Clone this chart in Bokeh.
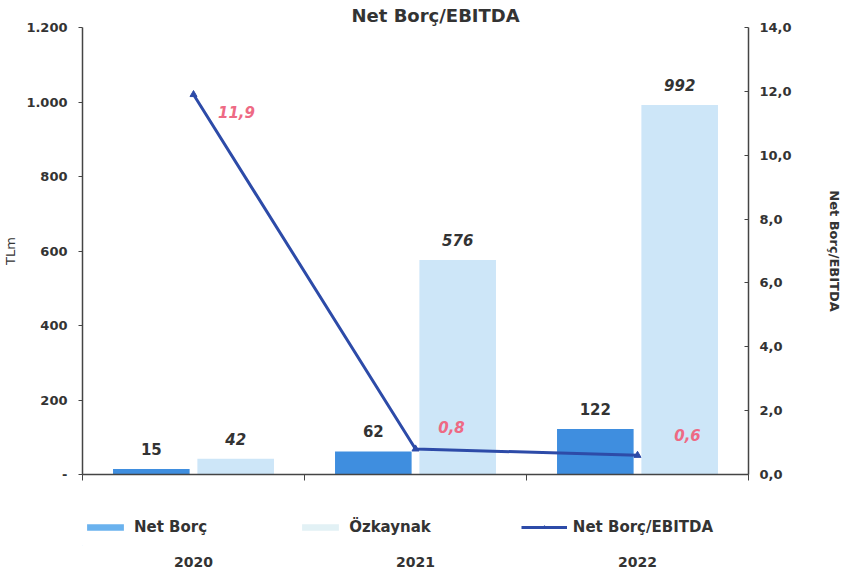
from bokeh.plotting import figure
from bokeh.layouts import column
from bokeh.models import (Range1d, LinearAxis, FixedTicker, ColumnDataSource,
                          Legend, LegendItem)
from bokeh.core.properties import value
from bokeh.embed import file_html
from bokeh.resources import INLINE

# --- data -------------------------------------------------------------------
years = ["2020", "2021", "2022"]
net_borc = [15, 62, 122]            # TLm
ozkaynak = [42, 576, 992]           # TLm
ratio = [11.9, 0.8, 0.6]            # Net Borç / EBITDA
ratio_text = ["11,9", "0,8", "0,6"]

left_ticks = [0, 200, 400, 600, 800, 1000, 1200]
left_tick_labels = ["-", "200", "400", "600", "800", "1.000", "1.200"]
right_ticks = [0, 2, 4, 6, 8, 10, 12, 14]
right_tick_labels = ["0,0", "2,0", "4,0", "6,0", "8,0", "10,0", "12,0", "14,0"]

# --- styling ----------------------------------------------------------------
FONT = "DejaVu Sans"
DARK = "#333333"
AXIS = "#444444"
C_NET = "#3F8EDF"
C_OZK = "#CDE6F8"
C_NET_KEY = "#6AB2EE"
C_OZK_KEY = "#E2F1F5"
C_LINE = "#2D4BA8"
C_RATIO = "#EE6A84"

BAR_W = 0.345
DODGE = 0.19
BORDER_L, BORDER_R = 82, 104

centers = [i + 0.5 for i in range(len(years))]
bounds = list(range(len(years) + 1))
src = ColumnDataSource(dict(
    center=centers,
    x_net=[c - DODGE for c in centers],
    x_ozk=[c + DODGE for c in centers],
    net=net_borc,
    ozk=ozkaynak,
    net_txt=[str(v) for v in net_borc],
    ozk_txt=[str(v) for v in ozkaynak],
    ratio=ratio,
    ratio_txt=ratio_text,
    rdx=[43, 36, 50],
    rdy=[17, -22, -20],
))

x_range = Range1d(0, len(years))

# ---------------------------------------------------------------- main chart
p = figure(width=852, height=500, x_range=x_range, y_range=Range1d(0, 1200),
           output_backend="svg", toolbar_location=None,
           x_axis_location=None, y_axis_location=None,
           min_border_left=BORDER_L, min_border_right=BORDER_R,
           min_border_top=27, min_border_bottom=26)
p.extra_y_ranges = {"ratio": Range1d(0, 14)}
p.xgrid.visible = False
p.ygrid.visible = False
p.outline_line_color = None
p.background_fill_color = "white"
p.border_fill_color = "white"

p.title.text = "Net Borç/EBITDA"
p.title.align = "left"
p.title.offset = 269
p.title.standoff = 3
p.title.text_font = FONT
p.title.text_font_style = "bold"
p.title.text_font_size = "18px"
p.title.text_color = DARK


def style_axis(ax):
    ax.axis_line_color = AXIS
    ax.axis_line_width = 1.5
    ax.major_tick_line_color = AXIS
    ax.minor_tick_line_color = AXIS
    ax.major_label_text_font = FONT
    ax.major_label_text_font_style = "bold"
    ax.major_label_text_font_size = "13px"
    ax.major_label_text_color = DARK
    ax.axis_label_text_font = FONT
    ax.axis_label_text_font_size = "13px"
    ax.axis_label_text_color = DARK


left = LinearAxis(ticker=FixedTicker(ticks=left_ticks),
                  major_label_overrides=dict(zip(left_ticks, left_tick_labels)),
                  axis_label="TLm")
style_axis(left)
left.major_tick_out = 4
left.major_tick_in = 0
left.minor_tick_out = 0
left.major_label_standoff = 11
left.axis_label_text_font_style = "normal"
left.axis_label_standoff = 5
p.add_layout(left, "left")

right = LinearAxis(y_range_name="ratio", ticker=FixedTicker(ticks=right_ticks),
                   major_label_overrides=dict(zip(right_ticks, right_tick_labels)),
                   axis_label="Net Borç/EBITDA")
style_axis(right)
right.major_tick_out = 0
right.major_tick_in = 4
right.minor_tick_out = 0
right.major_label_standoff = 11
right.axis_label_text_font_style = "bold"
right.axis_label_standoff = 32
p.add_layout(right, "right")

# category axis: ticks on the category boundaries, labels left blank
cat_ticks = LinearAxis(ticker=FixedTicker(ticks=bounds),
                       major_label_overrides={b: "" for b in bounds})
style_axis(cat_ticks)
cat_ticks.major_tick_out = 6
cat_ticks.major_tick_in = 0
cat_ticks.minor_tick_out = 0
cat_ticks.minor_tick_in = 0
cat_ticks.major_label_text_font_size = "1px"
cat_ticks.major_label_standoff = 0
p.add_layout(cat_ticks, "below")

# bars
p.vbar(x="x_net", top="net", width=BAR_W, source=src,
       fill_color=C_NET, line_color=None)
p.vbar(x="x_ozk", top="ozk", width=BAR_W, source=src,
       fill_color=C_OZK, line_color=None)

p.text(x="x_net", y="net", text="net_txt", source=src, y_offset=-20,
       text_align="center", text_baseline="middle", text_color=DARK,
       text_font=value(FONT), text_font_style="bold", text_font_size="15px")
p.text(x="x_ozk", y="ozk", text="ozk_txt", source=src, y_offset=-20,
       text_align="center", text_baseline="middle", text_color=DARK,
       text_font=value(FONT), text_font_style="bold italic", text_font_size="15px")

# ratio line
p.line(x="center", y="ratio", source=src, y_range_name="ratio",
       line_color=C_LINE, line_width=3)
p.scatter(x="center", y="ratio", source=src, y_range_name="ratio",
          marker="triangle", size=7, fill_color=C_LINE, line_color=C_LINE)
p.text(x="center", y="ratio", text="ratio_txt", source=src, y_range_name="ratio",
       x_offset="rdx", y_offset="rdy",
       text_align="center", text_baseline="middle", text_color=C_RATIO,
       text_font=value(FONT), text_font_style="bold italic", text_font_size="15px")

# ---------------------------------------------- legend strip with year labels
q = figure(width=852, height=77, x_range=x_range, y_range=Range1d(0, 1),
           output_backend="svg", toolbar_location=None,
           x_axis_location=None, y_axis_location=None,
           min_border_left=BORDER_L, min_border_right=BORDER_R,
           min_border_top=0, min_border_bottom=32)
q.title.visible = False
q.xgrid.visible = False
q.ygrid.visible = False
q.outline_line_color = None
q.background_fill_color = "white"
q.border_fill_color = "white"

# key glyphs: one point each, placed well outside the visible ranges
key_net = q.vbar(x=[-20], bottom=[-20], top=[-19], width=BAR_W,
                 fill_color=C_NET_KEY, line_color=None)
key_ozk = q.vbar(x=[-20], bottom=[-20], top=[-19], width=BAR_W,
                 fill_color=C_OZK_KEY, line_color=None)
key_line = q.line(x=[-21, -20], y=[-20, -20], line_color=C_LINE, line_width=3)
key_mark = q.scatter(x=[-20], y=[-20], marker="triangle", size=7,
                     fill_color=C_LINE, line_color=C_LINE)

legend = Legend(items=[
    LegendItem(label="Net Borç", renderers=[key_net]),
    LegendItem(label="Özkaynak", renderers=[key_ozk]),
    LegendItem(label="Net Borç/EBITDA", renderers=[key_line, key_mark]),
], orientation="horizontal", location=(0, 9), spacing=90,
    glyph_width=46, glyph_height=8, label_standoff=6, padding=0, margin=0,
    border_line_color=None, background_fill_alpha=0,
    label_text_font=FONT, label_text_font_style="bold",
    label_text_font_size="15px", label_text_color=DARK)
q.add_layout(legend, "center")

year_axis = LinearAxis(ticker=FixedTicker(ticks=centers),
                       major_label_overrides=dict(zip(centers, years)))
style_axis(year_axis)
year_axis.axis_line_color = None
year_axis.major_tick_out = 0
year_axis.major_tick_in = 0
year_axis.minor_tick_out = 0
year_axis.minor_tick_in = 0
year_axis.major_label_text_font_size = "14px"
year_axis.major_label_standoff = 11
q.add_layout(year_axis, "below")

layout = column(p, q, spacing=0)
open("out.html", "w").write(file_html(layout, INLINE))
